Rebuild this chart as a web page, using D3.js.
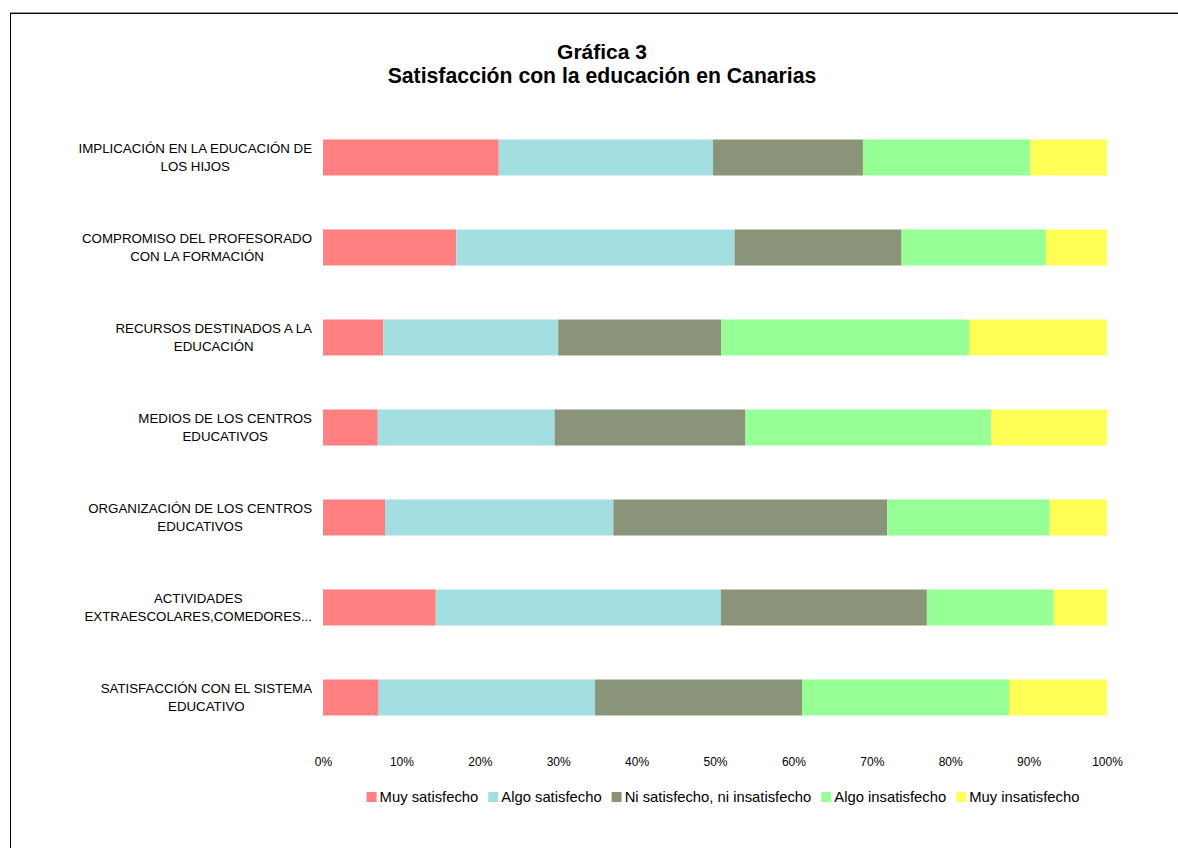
<!DOCTYPE html>
<html><head><meta charset="utf-8">
<script src="https://cdn.jsdelivr.net/npm/d3@7"></script>
<style>body{margin:0;background:#fff;overflow:hidden}svg{display:block}text{font-family:"Liberation Sans",Arial,sans-serif;fill:#000}</style>
</head><body><svg id="c" width="1178" height="848"></svg>
<script>
const titleLines = ["Gráfica 3", "Satisfacción con la educación en Canarias"];
const categories = [
  "IMPLICACIÓN EN LA EDUCACIÓN DE LOS HIJOS",
  "COMPROMISO DEL PROFESORADO CON LA FORMACIÓN",
  "RECURSOS DESTINADOS A LA EDUCACIÓN",
  "MEDIOS DE LOS CENTROS EDUCATIVOS",
  "ORGANIZACIÓN DE LOS CENTROS EDUCATIVOS",
  "ACTIVIDADES EXTRAESCOLARES,COMEDORES...",
  "SATISFACCIÓN CON EL SISTEMA EDUCATIVO"
];
const seriesNames = ["Muy satisfecho", "Algo satisfecho", "Ni satisfecho, ni insatisfecho", "Algo insatisfecho", "Muy insatisfecho"];
const muySatisfecho    = [22.4, 17.0, 7.7, 7.0, 7.9, 14.4, 7.1];
const algoSatisfecho   = [27.3, 35.5, 22.3, 22.6, 29.1, 36.4, 27.6];
const niNi             = [19.1, 21.3, 20.8, 24.4, 34.9, 26.3, 26.4];
const algoInsatisfecho = [21.3, 18.4, 31.6, 31.4, 20.7, 16.2, 26.4];
const muyInsatisfecho  = [9.8, 7.8, 17.6, 14.8, 7.3, 6.8, 12.5];
const tickValues = [0, 0.1, 0.2, 0.3, 0.4, 0.5, 0.6, 0.7, 0.8, 0.9, 1];
const colors = ["#FF8080", "#A3DFE0", "#8A9479", "#96FF96", "#FFFF55"];

const seriesValues = [muySatisfecho, algoSatisfecho, niNi, algoInsatisfecho, muyInsatisfecho];
const rows = categories.map((c, i) => {
  const r = {cat: c};
  seriesNames.forEach((s, j) => r[s] = seriesValues[j][i]);
  return r;
});

const svg = d3.select("#c");
// frame (left and top edges only visible)
svg.append("line").attr("x1", 10.5).attr("x2", 10.5).attr("y1", 13).attr("y2", 848).attr("stroke", "#000");
svg.append("line").attr("x1", 10).attr("x2", 1178).attr("y1", 13.5).attr("y2", 13.5).attr("stroke", "#000");
svg.append("line").attr("x1", 10).attr("x2", 1178).attr("y1", 12.5).attr("y2", 12.5).attr("stroke", "#999");

// title
svg.append("text").attr("x", 602).attr("y", 59).attr("text-anchor", "middle")
  .style("font-size", "21px").style("font-weight", "bold").text(titleLines[0]);
svg.append("text").attr("x", 602).attr("y", 83).attr("text-anchor", "middle")
  .style("font-size", "21.2px").style("font-weight", "bold").text(titleLines[1]);

const x = d3.scaleLinear().domain([0, 1]).range([323, 1107]);
const y = d3.scaleBand().domain(categories).range([112.5, 742.5]).paddingInner(0.6).paddingOuter(0.3);

const stack = d3.stack().keys(seriesNames).offset(d3.stackOffsetExpand);
const stacked = stack(rows);

svg.append("g").selectAll("g").data(stacked).join("g")
  .attr("fill", (d, i) => colors[i])
  .selectAll("rect").data(d => d).join("rect")
  .attr("x", d => x(d[0]))
  .attr("width", d => x(d[1]) - x(d[0]))
  .attr("y", d => y(d.data.cat))
  .attr("height", y.bandwidth());

// category labels with wrapping
const labelG = svg.append("g");
const labelSize = 13.3, maxW = 240, rightEdge = 312, lineH = 18;
categories.forEach(c => {
  const words = c.split(" ");
  const t = labelG.append("text").style("font-size", labelSize + "px");
  const measure = s => { t.text(s); return t.node().getComputedTextLength(); };
  const lines = []; let cur = "";
  words.forEach(w => {
    const test = cur ? cur + " " + w : w;
    if (cur && measure(test) > maxW) { lines.push(cur); cur = w; } else cur = test;
  });
  if (cur) lines.push(cur);
  const widest = d3.max(lines, l => measure(l));
  t.text(null);
  const cx = rightEdge - widest / 2;
  const cy = y(c) + y.bandwidth() / 2;
  t.attr("text-anchor", "middle");
  lines.forEach((l, i) => {
    t.append("tspan").attr("x", cx)
      .attr("y", cy + (i - (lines.length - 1) / 2) * lineH + 4.8)
      .text(l);
  });
});

// x axis
const axis = d3.axisBottom(x).tickValues(tickValues).tickFormat(d3.format(".0%")).tickSize(0).tickPadding(0);
const ax = svg.append("g").attr("transform", "translate(0,757)").call(axis);
ax.select(".domain").remove();
ax.selectAll("text").style("font-size", "12px").style("font-family", '"Liberation Sans",Arial,sans-serif').attr("fill", "#000");

// legend
const legendSize = 14.8;
const lg = svg.append("g");
const items = seriesNames.map((s, i) => {
  const g = lg.append("g");
  g.append("rect").attr("width", 10).attr("height", 10).attr("y", -5).attr("fill", colors[i]);
  const t = g.append("text").attr("x", 13).attr("y", 5.3).style("font-size", legendSize + "px").text(s);
  return {g, w: 13 + t.node().getComputedTextLength()};
});
const gap = 10;
const total = d3.sum(items, d => d.w) + gap * (items.length - 1);
let lx = 723 - total / 2;
items.forEach(it => { it.g.attr("transform", `translate(${lx},797)`); lx += it.w + gap; });
</script></body></html>
